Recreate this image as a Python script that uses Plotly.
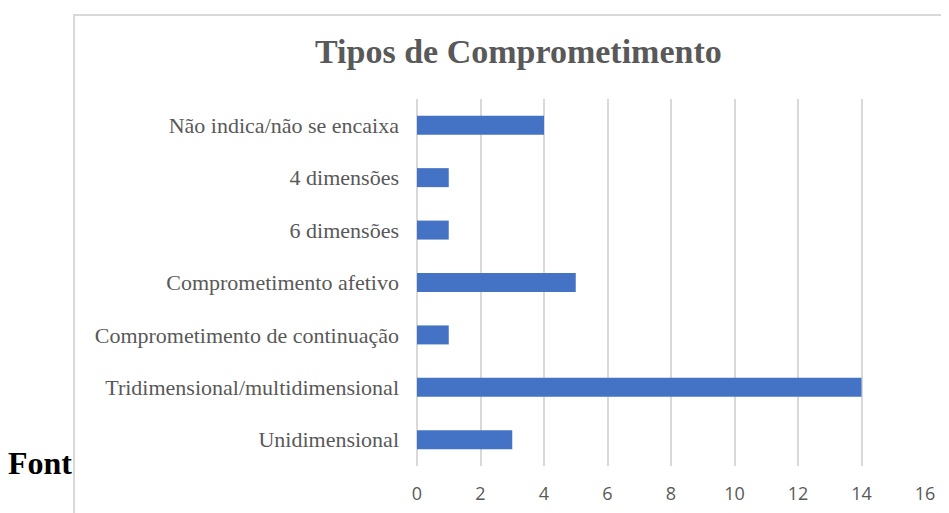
import plotly.graph_objects as go

categories = [
    "Não indica/não se encaixa",
    "4 dimensões",
    "6 dimensões",
    "Comprometimento afetivo",
    "Comprometimento de continuação",
    "Tridimensional/multidimensional",
    "Unidimensional",
]
values = [4, 1, 1, 5, 1, 14, 3]
x_ticks = [0, 2, 4, 6, 8, 10, 12, 14, 16]

# page body has an 8px default margin; figure is sized to fit the window
OFF = 8
W, H = 949 - OFF, 513 - OFF
L = 417 - OFF
T = 99 - OFF
R = W - (925 - OFF)
B = H - (466.5 - OFF)
pw = W - L - R
ph = H - T - B

def px_x(p):
    return (p - OFF - L) / pw

def px_y(p):
    return (H - B - (p - OFF)) / ph

fig = go.Figure(go.Bar(
    x=values,
    y=categories,
    orientation="h",
    marker=dict(color="#4472C4", line=dict(width=0)),
))

fig.update_layout(
    width=W, height=H,
    margin=dict(l=L, r=R, t=T, b=B, autoexpand=False),
    paper_bgcolor="white",
    plot_bgcolor="white",
    bargap=0.638,
    showlegend=False,
    xaxis=dict(
        range=[0, 16],
        tickvals=x_ticks,
        ticktext=[str(v) for v in x_ticks],
        showgrid=True,
        gridcolor="#d9d9d9",
        gridwidth=2,
        zeroline=True,
        zerolinecolor="#d9d9d9",
        zerolinewidth=2,
        showline=False,
        ticks="",
        tickfont=dict(family="Open Sans", size=18, color="#595959"),
        ticklabelstandoff=15,
        fixedrange=True,
    ),
    yaxis=dict(
        categoryorder="array",
        categoryarray=categories[::-1],
        showgrid=False,
        zeroline=False,
        showline=False,
        ticks="",
        tickfont=dict(family="Liberation Serif", size=22, color="#595959"),
        ticklabelstandoff=17,
        fixedrange=True,
    ),
    shapes=[
        dict(type="rect", xref="paper", yref="paper",
             x0=px_x(74), x1=px_x(949 + 40), y0=px_y(513 + 40), y1=px_y(15),
             line=dict(color="#d9d9d9", width=2), fillcolor="rgba(0,0,0,0)",
             layer="below"),
    ],
    annotations=[
        dict(text="<b>Tipos de Comprometimento</b>", xref="paper", yref="paper",
             x=px_x(518.5), y=px_y(51), xanchor="center", yanchor="middle",
             showarrow=False,
             font=dict(family="Liberation Serif", size=34, color="#595959")),
        dict(text="<b>Font</b>", xref="paper", yref="paper",
             x=px_x(6), y=px_y(463), xanchor="left", yanchor="middle",
             showarrow=False,
             font=dict(family="Liberation Serif", size=32, color="black")),
    ],
)

fig.write_html("out.html")
